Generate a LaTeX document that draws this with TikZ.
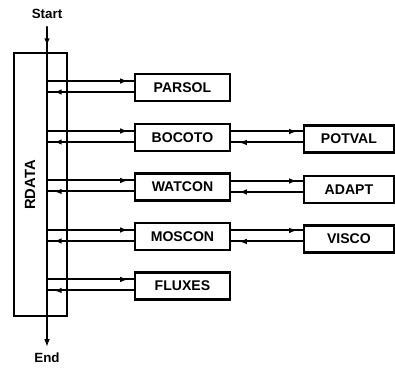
\documentclass[tikz,border=0pt]{standalone}
\usepackage{fontspec}
\setmainfont{Liberation Sans}
\usepackage{tikz}
\usetikzlibrary{arrows.meta,calc}

\begin{document}
\begin{tikzpicture}[x=0.025cm, y=-0.025cm, line cap=round,
    unit/.style={draw, line width=1.5pt, minimum width=2.375cm,
                 minimum height=0.675cm, inner sep=0pt,
                 font=\bfseries\fontsize{10}{11}\selectfont},
    sub/.style={unit, minimum width=2.25cm},
    flow/.style={line width=1.4pt},
    tip/.style={flow, -{Latex[length=5.5pt,width=4pt]}}]

  % ---- the RDATA driver with its control bus running top to bottom --------
  \node[draw, line width=1.5pt, minimum width=1.325cm, minimum height=6.575cm,
        inner sep=0pt] (rdata) at (40.5,184.5) {};
  \node[rotate=90, font=\bfseries\fontsize{10.5}{12}\selectfont] (rdlabel)
        at (30,185) {RDATA};
  \node[font=\bfseries\fontsize{9.5}{10}\selectfont] (start) at (47,14) {Start};
  \node[font=\bfseries\fontsize{9.5}{10}\selectfont] (end) at (47,358) {End};
  \coordinate (busin) at (47,27);
  \coordinate (busout) at (47,347);
  \draw[tip] (busin) -- (busout);
  \draw[tip] (busin) -- ($(busin)+(0,19)$);

  % ---- routines called straight from RDATA --------------------------------
  \foreach \n/\t/\y in {parsol/PARSOL/87.5, bocoto/BOCOTO/137.5,
                        watcon/WATCON/187, moscon/MOSCON/236.5,
                        fluxes/FLUXES/286}{
    \node[unit] (\n) at (182.5,\y) {\t};}

  % ---- routines called one level further down -----------------------------
  \foreach \n/\t/\y in {potval/POTVAL/139, adapt/ADAPT/189.5, visco/VISCO/239}{
    \node[sub] (\n) at (349,\y) {\t};}

  % ---- call (upper) and return (lower) lines from the bus -----------------
  \foreach \n in {parsol,bocoto,watcon,moscon,fluxes}{
    \coordinate (call) at ($(\n.west)+(0,-6.5)$);
    \coordinate (back) at ($(\n.west)+(0,4.5)$);
    \draw[flow] (busin |- call) -- (call);
    \draw[tip] (busin |- call) -- ($(call)+(-6,0)$);
    \draw[flow] (back) -- (busin |- back);
    \draw[tip] (back) -- ($(busin |- back)+(7,0)$);}

  % ---- the same pair between each caller and its sub-routine --------------
  \foreach \m/\r in {bocoto/potval, watcon/adapt, moscon/visco}{
    \coordinate (call) at ($(\m.east)+(0,-6)$);
    \coordinate (back) at ($(\m.east)+(0,5)$);
    \draw[flow] (call) -- (call -| \r.west);
    \draw[tip] (call) -- ($(call -| \r.west)+(-6,0)$);
    \draw[flow] (back -| \r.west) -- (back);
    \draw[tip] (back -| \r.west) -- ($(back)+(8,0)$);}

  \path (0,0) rectangle (395,370);
\end{tikzpicture}
\end{document}
